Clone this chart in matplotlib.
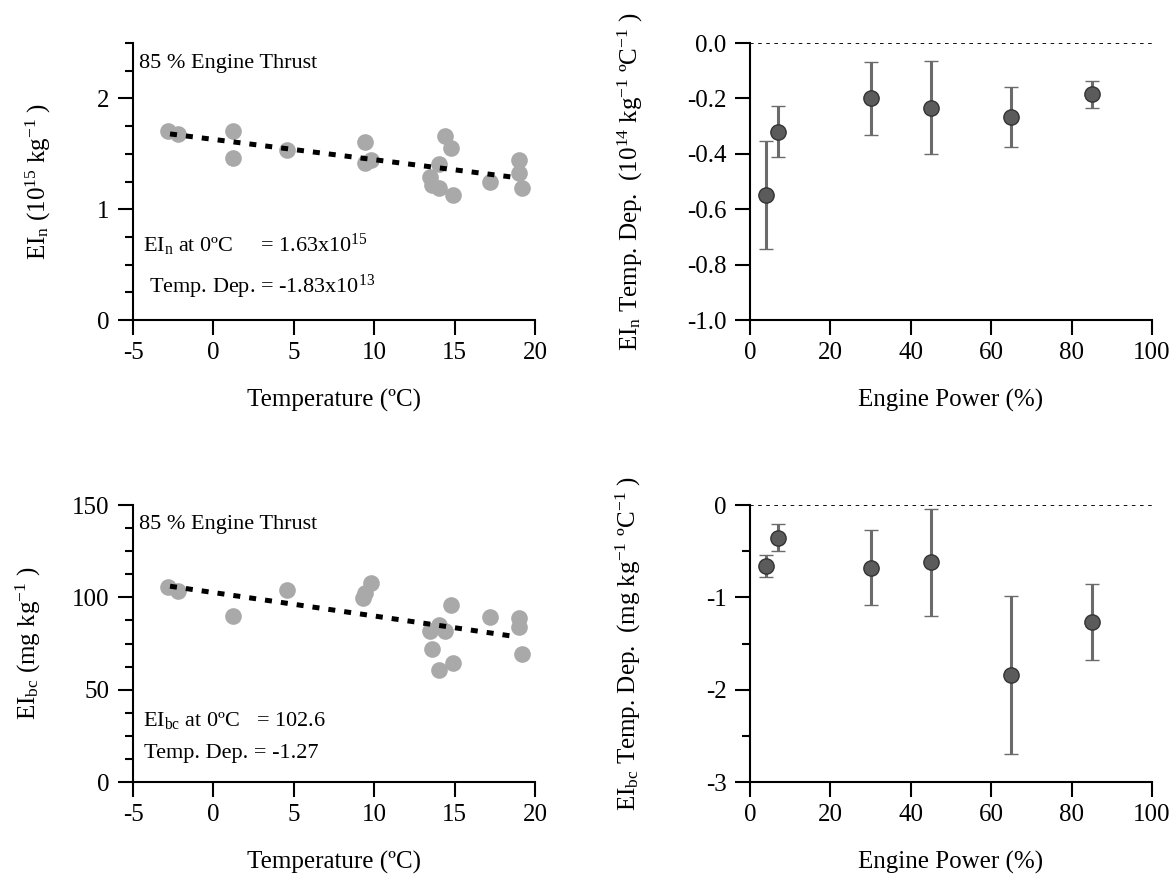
import numpy as np
import matplotlib
matplotlib.use("Agg")
import matplotlib.pyplot as plt
from matplotlib.ticker import MultipleLocator, FormatStrFormatter

plt.rcParams["font.family"] = ["Liberation Serif", "DejaVu Serif"]
plt.rcParams["mathtext.fontset"] = "custom"
plt.rcParams["mathtext.rm"] = "Liberation Serif"
plt.rcParams["mathtext.it"] = "Liberation Serif:italic"
plt.rcParams["mathtext.default"] = "regular"
plt.rcParams["axes.unicode_minus"] = False
plt.rcParams["font.size"] = 18

# 85 % thrust samples: temperature vs emission index
temp_n = [-2.8, -2.2, 1.2, 1.2, 4.6, 9.4, 9.4, 9.8, 13.5, 13.6, 14.0, 14.0,
          14.4, 14.8, 14.9, 17.2, 19.0, 19.0, 19.2]
ei_n = [1.71, 1.68, 1.71, 1.46, 1.53, 1.61, 1.42, 1.44, 1.29, 1.22, 1.41, 1.19,
        1.66, 1.55, 1.13, 1.25, 1.44, 1.33, 1.19]

temp_bc = [-2.8, -2.2, 1.2, 4.6, 9.3, 9.4, 9.8, 13.5, 13.6, 14.0, 14.0, 14.4,
           14.8, 14.9, 17.2, 19.0, 19.0, 19.2]
ei_bc = [105.7, 103.4, 89.8, 103.9, 99.8, 102.2, 107.9, 81.7, 71.9, 84.9, 60.9,
         81.7, 96.1, 64.7, 89.5, 88.9, 84.0, 69.2]

# linear fits (intercept at 0 C, slope)
fit_x = [-2.7, 18.9]
n_icpt, n_slope = 1.63, -0.0183
bc_icpt, bc_slope = 102.6, -1.27

# temperature dependence vs engine power
power = [4, 7, 30, 45, 65, 85]
n_dep = [-0.55, -0.32, -0.20, -0.233, -0.267, -0.185]
n_err = [0.195, 0.092, 0.132, 0.167, 0.107, 0.048]
bc_dep = [-0.66, -0.354, -0.679, -0.622, -1.843, -1.268]
bc_err = [0.123, 0.145, 0.403, 0.575, 0.855, 0.415]

fig = plt.figure(figsize=(11.73, 8.76), dpi=100)
W, H = 0.3427, 0.3162
ax1 = fig.add_axes([0.1134, 0.6347, W, H])
ax2 = fig.add_axes([0.6394, 0.6347, W, H])
ax3 = fig.add_axes([0.1134, 0.1073, W, H])
ax4 = fig.add_axes([0.6394, 0.1073, W, H])


def style(ax):
    for s in ["top", "right"]:
        ax.spines[s].set_visible(False)
    for s in ["left", "bottom"]:
        ax.spines[s].set_linewidth(1.5)
    ax.tick_params(which="major", direction="out", length=11, width=1.5)
    ax.tick_params(which="minor", direction="out", length=5.5, width=1.5)
    ax.tick_params(axis="y", which="major", pad=6)
    ax.tick_params(axis="x", which="major", pad=5)


scat_col = "#a9a9a9"
pt_face = "#5b5b5b"
err_col = "#6b6b6b"
note_size = 16

# ---- top left ----
fx = np.array(fit_x)
ax1.plot(temp_n, ei_n, "o", ms=12, color=scat_col, mec="none", zorder=2)
ax1.plot(fx, n_icpt + n_slope * fx, color="black", lw=3.6,
         linestyle=(0, (1.4, 1.8)), zorder=3)
ax1.set_xlim(-5, 20)
ax1.set_ylim(0, 2.5)
ax1.xaxis.set_major_locator(MultipleLocator(5))
ax1.yaxis.set_major_locator(MultipleLocator(1))
ax1.yaxis.set_minor_locator(MultipleLocator(0.25))
style(ax1)
ax1.set_xlabel("Temperature (ºC)")
ax1.set_ylabel("EI$_{n}$ (10$^{15}$ kg$^{-1}$ )")
ax1.text(0.015, 0.925, "85 % Engine Thrust", transform=ax1.transAxes,
         ha="left", va="center", fontsize=note_size)
ax1.text(0.025, 0.27, "EI$_{n}$ at 0ºC     = 1.63x10$^{15}$",
         transform=ax1.transAxes, ha="left", va="center", fontsize=note_size)
ax1.text(0.04, 0.12, "Temp. Dep. = -1.83x10$^{13}$",
         transform=ax1.transAxes, ha="left", va="center", fontsize=note_size)

# ---- top right ----
ax2.plot([0, 100], [0, 0], color="black", lw=1.3, linestyle=(0, (2, 2.5)))
ax2.errorbar(power, n_dep, yerr=n_err, fmt="o", ms=11, mfc=pt_face,
             mec="#333333", mew=1, ecolor=err_col, elinewidth=2.2,
             capsize=5, capthick=2.2, zorder=3)
ax2.set_xlim(0, 100)
ax2.set_ylim(-1.0, 0.0)
ax2.xaxis.set_major_locator(MultipleLocator(20))
ax2.yaxis.set_major_locator(MultipleLocator(0.2))
ax2.yaxis.set_major_formatter(FormatStrFormatter("%.1f"))
style(ax2)
ax2.set_xlabel("Engine Power (%)")
ax2.set_ylabel("EI$_{n}$ Temp. Dep.  (10$^{14}$ kg$^{-1}$ ºC$^{-1}$ )")

# ---- bottom left ----
ax3.plot(temp_bc, ei_bc, "o", ms=12, color=scat_col, mec="none", zorder=2)
ax3.plot(fx, bc_icpt + bc_slope * fx, color="black", lw=3.6,
         linestyle=(0, (1.4, 1.8)), zorder=3)
ax3.set_xlim(-5, 20)
ax3.set_ylim(0, 150)
ax3.xaxis.set_major_locator(MultipleLocator(5))
ax3.yaxis.set_major_locator(MultipleLocator(50))
ax3.yaxis.set_minor_locator(MultipleLocator(12.5))
style(ax3)
ax3.set_xlabel("Temperature (ºC)")
ax3.set_ylabel("EI$_{bc}$ (mg kg$^{-1}$ )")
ax3.text(0.015, 0.928, "85 % Engine Thrust", transform=ax3.transAxes,
         ha="left", va="center", fontsize=note_size)
ax3.text(0.025, 0.223, "EI$_{bc}$ at 0ºC   = 102.6",
         transform=ax3.transAxes, ha="left", va="center", fontsize=note_size)
ax3.text(0.028, 0.102, "Temp. Dep. = -1.27",
         transform=ax3.transAxes, ha="left", va="center", fontsize=note_size)

# ---- bottom right ----
ax4.plot([0, 100], [0, 0], color="black", lw=1.3, linestyle=(0, (2, 2.5)))
ax4.errorbar(power, bc_dep, yerr=bc_err, fmt="o", ms=11, mfc=pt_face,
             mec="#333333", mew=1, ecolor=err_col, elinewidth=2.2,
             capsize=5, capthick=2.2, zorder=3)
ax4.set_xlim(0, 100)
ax4.set_ylim(-3, 0)
ax4.xaxis.set_major_locator(MultipleLocator(20))
ax4.yaxis.set_major_locator(MultipleLocator(1))
ax4.yaxis.set_minor_locator(MultipleLocator(0.5))
style(ax4)
ax4.set_xlabel("Engine Power (%)")
ax4.set_ylabel("EI$_{bc}$ Temp. Dep.  (mg kg$^{-1}$ ºC$^{-1}$ )")

for ax, lx in [(ax1, -0.2), (ax2, -0.26), (ax3, -0.225), (ax4, -0.265)]:
    ax.yaxis.set_label_coords(lx, 0.5)
    ax.xaxis.set_label_coords(0.5, -0.25)
    for sp in ["left", "bottom"]:
        ax.spines[sp].set_capstyle("projecting")

fig.savefig("out.png", dpi=100)
